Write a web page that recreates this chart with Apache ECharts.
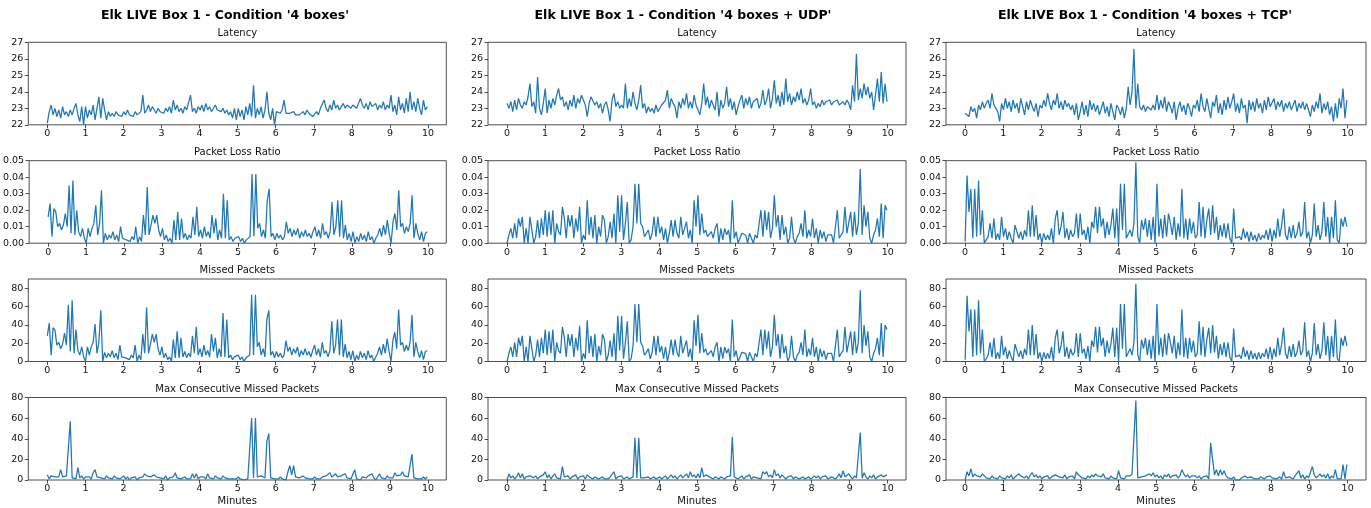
<!DOCTYPE html>
<html>
<head>
<meta charset="utf-8">
<script src="https://cdn.jsdelivr.net/npm/echarts@6/dist/echarts.min.js"></script>
<style>
html,body{margin:0;padding:0;background:#fff;}
#chart{width:1371px;height:508px;}
</style>
</head>
<body>
<div id="chart"></div>
<script>
// ---------------- DATA ----------------
const conditions = ["Elk LIVE Box 1 - Condition '4 boxes'", "Elk LIVE Box 1 - Condition '4 boxes + UDP'", "Elk LIVE Box 1 - Condition '4 boxes + TCP'"];
const metricTitles = ["Latency", "Packet Loss Ratio", "Missed Packets", "Max Consecutive Missed Packets"];
const xTicks = [0,1,2,3,4,5,6,7,8,9,10];
const latencyTicks = [22,23,24,25,26,27];
const lossTicks = [0,0.01,0.02,0.03,0.04,0.05];
const missedTicks = [0,20,40,60,80];
const maxConsecTicks = [0,20,40,60,80];

const latency4 = [
22.1,22.8,23.2,22.6,23.0,22.5,22.9,22.4,23.1,22.6,22.8,22.5,22.9,22.6,23.0,23.3,22.6,22.2,23.1,22.0,
23.1,22.4,22.9,22.6,23.2,22.3,23.0,23.7,22.4,23.6,22.9,22.3,22.8,22.5,22.7,22.5,22.8,22.6,22.7,22.5,
22.8,22.6,22.9,22.6,22.7,22.5,22.8,22.6,22.7,22.8,23.8,22.7,22.9,23.2,22.8,23.1,22.9,22.7,23.0,22.8,
22.9,22.7,23.0,22.8,23.1,22.7,23.5,22.9,23.2,22.8,23.0,22.7,23.1,22.9,22.8,23.8,22.8,23.0,22.7,23.1,
22.9,23.2,22.8,23.3,22.9,23.1,22.8,23.0,23.2,22.9,23.0,22.8,23.0,22.7,22.9,22.6,22.8,22.4,23.0,22.3,
23.0,22.5,22.9,22.3,23.1,22.6,23.3,22.5,24.4,22.4,23.0,22.6,23.1,22.4,22.9,24.0,22.7,22.3,23.0,22.0,
22.8,22.9,22.7,22.9,23.5,22.7,22.8,22.7,22.6,22.8,22.6,22.7,22.6,22.7,22.8,22.6,22.9,22.7,22.6,22.5,
22.4,22.8,22.6,23.0,22.9,23.5,23.0,22.8,23.2,22.9,23.5,23.0,23.2,22.9,23.1,23.3,23.0,23.2,23.1,23.0,
23.2,23.1,23.0,23.3,23.6,23.2,23.0,23.3,22.9,23.4,23.1,23.0,23.3,22.9,23.2,23.0,23.4,22.9,23.2,23.0,
23.8,22.8,23.2,22.6,23.7,22.9,23.3,22.7,23.6,22.8,24.0,22.9,23.4,22.8,23.6,23.0,22.6,23.5,22.9,23.1];

const latencyUDP = [
23.3,23.0,23.4,22.8,23.5,22.9,23.6,23.2,23.0,23.4,23.2,23.7,24.5,23.1,23.4,22.7,24.9,23.0,22.6,23.3,
24.2,22.7,23.5,23.0,23.6,23.2,23.8,24.2,23.5,23.7,23.1,23.4,22.9,23.5,23.1,23.8,23.0,23.6,23.3,23.8,
23.8,23.2,22.5,23.3,23.7,23.6,23.2,23.4,23.0,23.3,22.7,23.2,23.4,22.9,22.2,23.5,23.9,23.1,23.4,23.0,
23.2,23.0,24.5,23.0,23.6,23.1,24.0,23.3,22.9,23.5,24.4,23.0,23.3,22.7,23.1,22.8,23.0,22.7,23.2,22.8,
23.0,23.2,23.1,23.5,24.1,23.0,23.6,23.3,23.1,22.4,23.4,23.0,23.6,23.2,23.9,23.0,23.4,23.0,23.8,23.2,
23.1,22.6,23.3,24.5,23.2,23.7,23.0,23.5,23.2,22.9,24.0,22.5,23.5,23.0,23.3,24.3,23.1,23.6,22.9,23.4,
22.6,23.1,23.5,23.8,23.0,23.6,23.2,23.7,23.0,23.4,23.3,23.6,23.0,23.3,24.1,23.2,23.5,24.2,23.0,23.6,
24.7,23.3,23.8,23.1,24.0,23.2,24.8,23.4,23.9,23.2,23.7,23.4,24.0,23.5,24.2,23.3,23.6,23.2,23.5,24.2,
23.2,23.4,23.0,23.3,23.1,23.5,23.2,23.4,23.3,23.5,23.2,23.4,23.3,23.5,23.2,23.3,23.4,23.2,23.5,23.3,
22.9,24.4,23.4,26.3,23.5,24.2,23.6,24.5,23.8,24.3,23.6,24.0,22.9,23.8,24.8,23.4,25.2,23.3,24.5,23.4];

const latencyTCP = [
22.7,22.7,22.5,23.1,22.8,23.0,22.4,23.2,22.9,23.4,23.0,23.3,23.5,23.0,23.9,23.2,23.1,22.8,22.2,23.3,
22.9,23.6,23.0,23.4,22.8,23.5,23.0,23.3,22.7,23.6,23.1,22.6,23.4,22.9,23.5,23.1,22.8,23.3,22.5,23.2,
23.0,23.5,23.1,23.9,23.3,22.9,23.5,23.2,23.9,23.0,23.4,22.9,23.5,23.1,23.3,22.9,23.2,22.6,23.3,22.3,
22.8,23.4,22.6,23.2,22.5,23.5,22.9,23.3,22.8,23.2,22.6,23.0,23.4,22.7,23.1,22.5,23.3,22.8,22.3,23.2,
23.0,22.6,23.1,22.4,23.0,24.3,23.2,24.0,26.6,23.0,24.5,23.1,22.9,23.2,22.8,23.1,23.0,22.9,23.2,22.9,
23.8,22.9,23.5,23.0,23.7,22.8,23.4,23.1,22.7,23.4,22.3,23.0,23.4,22.8,23.2,22.6,23.3,23.0,22.5,23.2,
23.0,23.5,22.8,23.9,23.1,22.8,23.6,23.0,22.4,23.4,23.1,23.8,22.7,23.3,22.6,23.5,22.9,23.7,23.0,23.4,
23.9,22.8,23.3,22.7,23.6,23.0,23.2,22.1,23.5,22.9,23.4,22.8,23.6,23.0,23.3,22.7,23.5,22.9,23.7,23.1,
23.0,23.6,22.9,23.4,23.1,23.5,22.8,23.3,23.0,23.4,22.9,23.2,23.5,22.8,23.3,23.0,23.4,22.9,23.3,22.9,
22.5,23.2,22.8,23.4,23.0,23.9,22.7,23.3,22.9,23.4,22.6,23.1,22.2,23.3,22.4,23.6,23.0,24.2,22.4,23.5];

const lossRatio4 = [
0.016,0.024,0.004,0.021,0.019,0.010,0.012,0.008,0.011,0.018,0.010,0.035,0.006,0.038,0.005,0.020,0.007,0.004,0.009,0.003,
0.000,0.009,0.004,0.009,0.012,0.023,0.005,0.012,0.032,0.000,0.006,0.002,0.005,0.003,0.007,0.002,0.005,0.001,0.010,0.003,
0.004,0.002,0.003,0.001,0.004,0.002,0.010,0.000,0.004,0.001,0.017,0.005,0.034,0.005,0.011,0.017,0.012,0.017,0.008,0.004,
0.009,0.002,0.005,0.001,0.003,0.000,0.014,0.002,0.019,0.002,0.015,0.003,0.006,0.002,0.005,0.003,0.016,0.005,0.022,0.004,
0.008,0.003,0.010,0.004,0.007,0.003,0.017,0.006,0.015,0.002,0.008,0.003,0.030,0.003,0.026,0.002,0.004,0.001,0.003,0.002,
0.004,0.001,0.003,0.000,0.002,0.001,0.004,0.042,0.004,0.042,0.009,0.012,0.004,0.008,0.003,0.026,0.033,0.004,0.006,0.002,
0.006,0.003,0.005,0.002,0.004,0.013,0.006,0.009,0.004,0.008,0.005,0.009,0.003,0.007,0.004,0.008,0.004,0.006,0.003,0.007,
0.010,0.004,0.008,0.003,0.012,0.005,0.007,0.003,0.007,0.025,0.005,0.010,0.026,0.004,0.026,0.003,0.011,0.002,0.006,0.001,
0.007,0.000,0.004,0.001,0.006,0.002,0.005,0.001,0.007,0.002,0.004,0.000,0.003,0.005,0.009,0.004,0.011,0.005,0.014,0.006,
0.000,0.013,0.018,0.008,0.032,0.010,0.012,0.006,0.010,0.007,0.012,0.029,0.003,0.012,0.006,0.002,0.007,0.001,0.006,0.007];

const lossRatioUDP = [
0.000,0.005,0.009,0.003,0.012,0.003,0.015,0.010,0.016,0.000,0.009,0.000,0.016,0.015,0.000,0.004,0.014,0.003,0.015,0.005,
0.020,0.004,0.019,0.005,0.020,0.000,0.012,0.007,0.005,0.022,0.015,0.003,0.017,0.010,0.017,0.003,0.015,0.007,0.022,0.000,
0.005,0.002,0.026,0.005,0.016,0.003,0.017,0.000,0.010,0.004,0.017,0.014,0.000,0.004,0.013,0.003,0.018,0.000,0.029,0.007,
0.029,0.002,0.012,0.025,0.000,0.002,0.010,0.036,0.012,0.036,0.012,0.010,0.004,0.006,0.008,0.002,0.006,0.016,0.004,0.016,
0.006,0.010,0.002,0.009,0.000,0.006,0.014,0.004,0.014,0.006,0.003,0.016,0.005,0.009,0.013,0.003,0.008,0.000,0.026,0.010,
0.029,0.005,0.018,0.006,0.008,0.004,0.005,0.007,0.003,0.009,0.012,0.000,0.009,0.002,0.009,0.005,0.008,0.000,0.026,0.003,
0.007,0.000,0.003,0.006,0.007,0.005,0.000,0.006,0.003,0.000,0.005,0.003,0.004,0.020,0.004,0.020,0.008,0.019,0.003,0.009,
0.029,0.010,0.017,0.002,0.017,0.005,0.010,0.000,0.003,0.016,0.003,0.000,0.004,0.006,0.012,0.004,0.020,0.003,0.008,0.004,
0.015,0.003,0.009,0.000,0.008,0.003,0.007,0.001,0.005,0.004,0.005,0.000,0.010,0.020,0.003,0.005,0.007,0.022,0.006,0.005,
0.019,0.004,0.019,0.005,0.012,0.045,0.005,0.023,0.010,0.019,0.003,0.000,0.005,0.008,0.015,0.004,0.024,0.003,0.023,0.020];

const lossRatioTCP = [
0.001,0.041,0.019,0.033,0.003,0.033,0.004,0.038,0.005,0.020,0.000,0.002,0.004,0.012,0.003,0.015,0.002,0.006,0.002,0.016,
0.004,0.009,0.002,0.007,0.003,0.000,0.011,0.010,0.003,0.007,0.002,0.008,0.004,0.020,0.004,0.023,0.004,0.017,0.002,0.006,
0.000,0.006,0.002,0.005,0.002,0.009,0.000,0.015,0.020,0.005,0.010,0.019,0.003,0.009,0.002,0.008,0.004,0.006,0.018,0.003,
0.018,0.005,0.008,0.002,0.010,0.000,0.013,0.009,0.022,0.006,0.022,0.010,0.015,0.003,0.013,0.005,0.011,0.021,0.003,0.021,
0.000,0.036,0.008,0.036,0.003,0.004,0.008,0.004,0.012,0.049,0.004,0.000,0.014,0.008,0.015,0.004,0.014,0.002,0.016,0.000,
0.036,0.004,0.015,0.003,0.017,0.004,0.018,0.012,0.005,0.016,0.002,0.012,0.004,0.033,0.003,0.015,0.002,0.015,0.006,0.013,
0.003,0.005,0.025,0.004,0.022,0.003,0.014,0.021,0.005,0.023,0.006,0.016,0.002,0.011,0.004,0.012,0.003,0.012,0.003,0.000,
0.021,0.003,0.003,0.004,0.002,0.009,0.003,0.007,0.001,0.007,0.002,0.005,0.001,0.006,0.002,0.005,0.003,0.008,0.002,0.009,
0.001,0.008,0.003,0.015,0.004,0.011,0.021,0.005,0.002,0.010,0.003,0.011,0.003,0.006,0.013,0.004,0.007,0.025,0.003,0.007,
0.000,0.005,0.024,0.004,0.011,0.002,0.007,0.025,0.004,0.016,0.000,0.016,0.003,0.026,0.002,0.000,0.015,0.010,0.016,0.010];

const missed4 = [
28,42,7,37,34,18,21,14,19,31,18,62,11,67,9,35,12,7,16,5,
0,16,7,16,21,41,9,21,56,0,10,4,9,5,12,4,9,2,18,5,
7,4,5,2,7,4,18,0,7,2,30,9,59,9,19,30,21,30,14,7,
16,4,9,2,5,0,24,4,33,4,26,5,11,4,9,5,28,9,38,7,
14,5,18,7,12,5,30,11,26,4,14,5,53,5,46,4,7,2,5,4,
7,2,5,0,4,2,7,73,7,73,16,21,7,14,5,46,56,7,11,4,
11,5,9,4,7,23,11,16,7,14,9,16,5,12,7,14,7,11,5,12,
18,7,14,5,21,9,12,5,12,44,9,18,46,7,46,5,19,4,11,2,
12,0,7,2,11,4,9,2,12,4,7,0,5,9,16,7,19,9,25,11,
0,23,32,14,57,18,21,11,18,12,21,51,5,21,11,4,12,2,11,12];

const missedUDP = [
0,9,16,5,21,5,26,17,28,0,16,0,28,26,0,7,24,5,26,9,
35,7,33,9,35,0,21,12,9,38,26,5,30,17,30,5,26,12,39,0,
9,3,45,9,28,5,30,0,17,7,30,24,0,7,23,5,31,0,50,12,
50,3,21,44,0,3,17,63,21,63,21,17,7,10,14,3,10,28,7,28,
10,17,3,16,0,10,24,7,24,10,5,28,9,16,23,5,14,0,45,17,
51,9,31,10,14,7,9,12,5,16,21,0,16,3,16,9,14,0,46,5,
12,0,5,10,12,9,0,10,5,0,9,5,7,35,7,35,14,33,5,16,
51,17,30,3,30,9,17,0,5,28,5,0,7,10,21,7,35,5,14,7,
26,5,16,0,14,5,12,2,9,7,9,0,17,35,5,9,12,38,10,9,
33,7,33,9,21,78,9,40,17,33,5,0,9,14,26,7,42,5,40,35];

const missedTCP = [
2,72,33,57,5,57,7,67,9,35,0,3,7,21,5,26,3,10,3,28,
7,16,3,12,5,0,19,17,5,12,3,14,7,35,7,40,7,30,3,10,
0,10,3,9,3,16,0,26,35,9,17,33,5,16,3,14,7,10,31,5,
31,9,14,3,17,0,23,16,38,10,38,17,26,5,23,9,19,37,5,37,
0,63,14,63,5,7,14,7,21,85,7,0,24,14,26,7,24,3,28,0,
63,7,26,5,30,7,31,21,9,28,3,21,7,57,5,26,3,26,10,23,
5,9,44,7,38,5,24,37,9,40,10,28,3,19,7,21,5,21,5,0,
36,5,5,7,3,16,5,12,2,12,3,9,2,10,3,9,5,14,3,16,
2,14,5,26,7,19,37,9,3,17,5,19,5,10,23,7,12,43,5,12,
0,9,42,7,19,3,12,43,7,28,0,28,5,46,3,0,26,17,28,17];

const maxConsec4 = [
5,1,4,5,3,2,3,10,3,2,4,3,57,2,3,1,12,2,4,1,
3,2,3,1,7,10,3,4,2,3,1,4,2,3,1,4,2,3,1,2,
4,1,3,0,2,1,3,0,2,1,3,6,4,5,3,4,5,3,4,2,
3,1,4,0,2,1,3,7,2,3,1,2,3,1,2,1,6,2,6,1,
3,2,3,1,6,2,3,1,4,2,3,1,4,2,3,1,2,1,2,1,
3,1,2,0,1,1,2,60,2,60,3,2,4,3,2,38,45,2,3,1,
2,1,3,1,2,0,8,14,5,14,3,4,2,3,4,2,3,1,2,1,
3,1,2,1,3,2,4,3,7,3,4,6,3,2,4,3,6,2,3,1,
2,10,1,2,0,3,4,2,4,3,6,2,0,1,6,2,3,1,4,2,
3,2,7,4,3,5,8,4,3,3,3,25,2,3,1,2,1,3,1,3];

const maxConsecUDP = [
0,6,2,4,1,3,7,2,6,1,3,2,4,3,2,4,1,3,2,5,
8,2,5,1,4,6,2,3,1,13,3,2,4,1,3,2,5,1,3,2,
4,1,5,3,2,1,3,2,1,2,3,1,2,1,3,2,8,1,3,2,
4,1,2,3,1,2,3,41,2,41,2,1,2,1,3,1,2,3,1,2,
3,1,2,4,1,3,5,2,4,1,3,5,2,4,6,2,8,3,5,2,
6,2,12,3,5,4,3,2,1,3,2,1,3,2,1,3,2,4,42,3,
3,1,2,4,1,3,2,5,1,3,4,2,3,1,8,6,8,3,5,2,
10,4,6,2,5,3,1,3,2,4,1,3,2,1,2,3,1,2,3,1,
1,4,2,4,1,3,2,4,1,2,3,2,1,3,6,2,9,3,4,6,
3,1,4,2,3,46,2,7,3,1,4,2,5,1,3,2,5,3,4,5];

const maxConsecTCP = [
0,8,4,11,3,6,4,5,3,6,4,2,3,1,4,2,3,1,4,2,
3,1,4,2,5,1,3,2,6,4,3,2,4,1,5,7,3,5,2,4,
1,3,2,4,1,3,2,5,6,3,4,2,5,1,3,2,4,1,8,5,
4,2,3,1,4,2,5,3,6,4,5,3,6,2,3,1,4,2,3,1,
9,2,3,1,4,5,4,6,5,77,2,1,3,2,4,3,6,4,7,3,
5,2,4,1,5,3,6,2,4,3,5,2,4,10,6,3,5,2,4,3,
4,2,4,1,3,2,4,1,36,20,5,10,4,10,5,9,4,2,3,1,
3,0,1,0,2,1,4,2,1,3,2,1,2,1,3,2,1,3,2,4,
2,3,1,2,3,1,8,2,1,3,2,1,4,3,9,2,5,1,4,2,
1,13,5,2,4,6,3,5,2,6,1,4,2,10,1,0,1,15,1,15];

// sample times in minutes (uniform sampling over the 10 minute run)
const minutes = latency4.map((_, i) => i * 9.98 / (latency4.length - 1));

// ---------------- LAYOUT ----------------
const rows = [
  {title: metricTitles[0], series: [latency4, latencyUDP, latencyTCP], min: 22, max: 27, ticks: latencyTicks, fmt: v => String(v)},
  {title: metricTitles[1], series: [lossRatio4, lossRatioUDP, lossRatioTCP], min: 0, max: 0.05, ticks: lossTicks, fmt: v => Number(v).toFixed(2)},
  {title: metricTitles[2], series: [missed4, missedUDP, missedTCP], min: 0, max: 90.3, ticks: missedTicks, fmt: v => String(v)},
  {title: metricTitles[3], series: [maxConsec4, maxConsecUDP, maxConsecTCP], min: 0, max: 80, ticks: maxConsecTicks, fmt: v => String(v)}
];
const colLeft = [28.3, 488, 946];
const colWidth = [418, 418, 420];
const rowTop = [42.3, 160.7, 279, 397.5];
const rowH = 82.5;
const supCenterX = [225, 683, 1145];

const FONT = '"DejaVu Sans", "Liberation Sans", sans-serif';
const grids = [], xAxes = [], yAxes = [], series = [], graphics = [];
let gi = 0;
for (let r = 0; r < 4; r++) {
  for (let c = 0; c < 3; c++) {
    const row = rows[r];
    grids.push({left: colLeft[c], top: rowTop[r], width: colWidth[c], height: rowH,
      show: true, borderColor: '#222', borderWidth: 0.8, backgroundColor: 'rgba(0,0,0,0)', containLabel: false});
    xAxes.push({type: 'value', gridIndex: gi, min: -0.5, max: 10.48, position: 'bottom',
      axisLine: {show: false, onZero: false}, splitLine: {show: false},
      axisTick: {show: true, length: 3.5, lineStyle: {color: '#222', width: 0.8}, customValues: xTicks},
      axisLabel: {customValues: xTicks, fontSize: 9.5, color: '#111', margin: 4, fontFamily: FONT}});
    yAxes.push({type: 'value', gridIndex: gi, min: row.min, max: row.max, position: 'left',
      axisLine: {show: false, onZero: false}, splitLine: {show: false},
      axisTick: {show: true, length: 3.5, lineStyle: {color: '#222', width: 0.8}, customValues: row.ticks},
      axisLabel: {customValues: row.ticks, fontSize: 9.5, color: '#111', margin: 5, fontFamily: FONT, formatter: row.fmt}});
    series.push({type: 'line', xAxisIndex: gi, yAxisIndex: gi, showSymbol: false, symbol: 'none',
      clip: true, animation: false,
      lineStyle: {color: '#1f77b4', width: 1.25}, itemStyle: {color: '#1f77b4'},
      data: row.series[c].map((v, i) => [minutes[i], v])});
    graphics.push({type: 'text', x: colLeft[c] + colWidth[c] / 2, y: rowTop[r] - 8.5,
      style: {text: row.title, fontSize: 10, fontFamily: FONT, fill: '#111', align: 'center', verticalAlign: 'middle'}});
    if (r === 3) {
      graphics.push({type: 'text', x: colLeft[c] + colWidth[c] / 2, y: 501.5,
        style: {text: 'Minutes', fontSize: 10, fontFamily: FONT, fill: '#111', align: 'center', verticalAlign: 'middle'}});
    }
    gi++;
  }
}
for (let c = 0; c < 3; c++) {
  graphics.push({type: 'text', x: supCenterX[c], y: 15.5,
    style: {text: conditions[c], fontSize: 12.5, fontWeight: 'bold', fontFamily: FONT, fill: '#000', align: 'center', verticalAlign: 'middle'}});
}

const chart = echarts.init(document.getElementById('chart'), null, {renderer: 'canvas', width: 1371, height: 508});
chart.setOption({
  animation: false,
  backgroundColor: '#fff',
  grid: grids, xAxis: xAxes, yAxis: yAxes, series: series,
  graphic: graphics
});
</script>
</body>
</html>
